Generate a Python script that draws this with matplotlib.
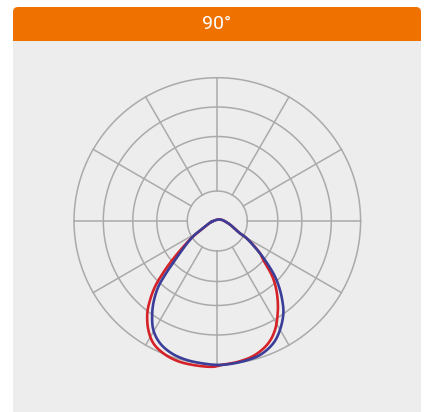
import numpy as np
import matplotlib
matplotlib.use("Agg")
import matplotlib.pyplot as plt
from matplotlib.patches import FancyBboxPatch, Rectangle

title = "90°"

# grid circles and spokes (radial units as drawn in the chart)
ring_radii = [30, 60.5, 84.5, 114, 143.3]
spoke_angles = np.arange(0, 360, 30)

# curve 1 (red): angle from nadir in degrees (negative = left), radius
red_angle = [-83, -65, -57.2, -49.1, -45.8, -43.5, -40.4, -37.2, -32.3, -27.6,
             -22.2, -16.2, -9.5, -1.6, 1.7, 8.5, 15.7, 22.6, 27.9, 33.2,
             37.4, 41.6, 45.2, 49.7, 52.9, 59.5, 61.5, 78, 120]
red_r = [5.6, 13.6, 29.5, 59.5, 77.5, 90.5, 103.8, 115.8, 129, 138,
         142.9, 145.5, 146, 145.8, 144, 142.3, 139.2, 132.5, 123.3, 110.3,
         99.4, 87.9, 76.7, 60.3, 53.5, 34.1, 25.8, 11.2, 3]

# curve 2 (blue)
blue_angle = [-83, -65, -57.2, -47.3, -44.1, -41.9, -38.7, -35.2, -30.4, -25.1,
              -19.0, -12.4, -4.2, 1.1, 9.8, 17.7, 24.6, 29.9, 35.6, 39.4,
              43.2, 46.5, 50.7, 52.9, 59.5, 61.5, 78, 120]
blue_r = [5.6, 13.6, 29.5, 57.5, 75.2, 88.3, 101.2, 112.9, 126.4, 135,
          140, 142.3, 143.4, 144, 142.8, 140.6, 134.5, 125.7, 113.5, 102.3,
          90.1, 78.5, 61.6, 53.5, 34.1, 25.8, 11.2, 3]


def smooth_closed(angle_deg, r, n=16):
    # centripetal catmull-rom through the read points, only to draw a smooth line
    th = np.deg2rad(angle_deg)
    P = np.column_stack([np.asarray(r) * np.sin(th), -np.asarray(r) * np.cos(th)])
    N = len(P)
    out = []
    for i in range(N):
        p0, p1, p2, p3 = P[i - 1], P[i], P[(i + 1) % N], P[(i + 2) % N]
        t0 = 0.0
        t1 = t0 + max(np.linalg.norm(p1 - p0), 1e-6) ** 0.5
        t2 = t1 + max(np.linalg.norm(p2 - p1), 1e-6) ** 0.5
        t3 = t2 + max(np.linalg.norm(p3 - p2), 1e-6) ** 0.5
        t = np.linspace(t1, t2, n, endpoint=False)[:, None]
        a1 = (t1 - t) / (t1 - t0) * p0 + (t - t0) / (t1 - t0) * p1
        a2 = (t2 - t) / (t2 - t1) * p1 + (t - t1) / (t2 - t1) * p2
        a3 = (t3 - t) / (t3 - t2) * p2 + (t - t2) / (t3 - t2) * p3
        b1 = (t2 - t) / (t2 - t0) * a1 + (t - t0) / (t2 - t0) * a2
        b2 = (t3 - t) / (t3 - t1) * a2 + (t - t1) / (t3 - t1) * a3
        out.append((t2 - t) / (t2 - t1) * b1 + (t - t1) / (t2 - t1) * b2)
    out.append(P[:1])
    xy = np.vstack(out)
    return np.arctan2(xy[:, 0], -xy[:, 1]), np.hypot(xy[:, 0], xy[:, 1])


W, H = 428, 412
fig = plt.figure(figsize=(W / 100, H / 100), dpi=100)
fig.patch.set_facecolor("white")

# grey panel
fig.patches.append(Rectangle((13 / W, 0), 408 / W, (H - 41) / H,
                             transform=fig.transFigure, facecolor="#ededed",
                             edgecolor="none", zorder=-2))
# orange header with rounded top corners
fig.patches.append(FancyBboxPatch((13 / W, (H - 41) / H), 408 / W, 34 / H,
                                  boxstyle="round,pad=0,rounding_size=0.012",
                                  transform=fig.transFigure, facecolor="#ef7100",
                                  edgecolor="none", zorder=-2))
fig.patches.append(Rectangle((13 / W, (H - 41) / H), 408 / W, 14 / H,
                             transform=fig.transFigure, facecolor="#ef7100",
                             edgecolor="none", zorder=-2))
fig.text(216.7 / W, 1 - 24.3 / H, title, color="white", fontsize=14,
         family="Roboto", ha="center", va="center")

cx, cy, R = 217.3, 221, 143.3
ax = fig.add_axes([(cx - R) / W, (H - cy - R) / H, 2 * R / W, 2 * R / H],
                  projection="polar")
ax.set_facecolor("none")
ax.set_theta_zero_location("S")
ax.set_ylim(0, R)
ax.grid(False)
ax.spines["polar"].set_visible(False)
ax.set_xticks([])
ax.set_yticks([])

grid_c = "#aaaaaa"
t = np.linspace(0, 2 * np.pi, 400)
for r in ring_radii:
    ax.plot(t, np.full_like(t, r), color=grid_c, lw=1.1, clip_on=False, zorder=1)
for a in np.deg2rad(spoke_angles):
    ax.plot([a, a], [ring_radii[0], ring_radii[-1]], color=grid_c, lw=1.1,
            clip_on=False, zorder=1)

th, rr = smooth_closed(red_angle, red_r)
ax.plot(th, rr, color="#d52228", lw=1.9, clip_on=False, zorder=3)
th, rr = smooth_closed(blue_angle, blue_r)
ax.plot(th, rr, color="#3b3e98", lw=1.9, clip_on=False, zorder=4)

fig.savefig("out.png", dpi=100, facecolor=fig.get_facecolor())
